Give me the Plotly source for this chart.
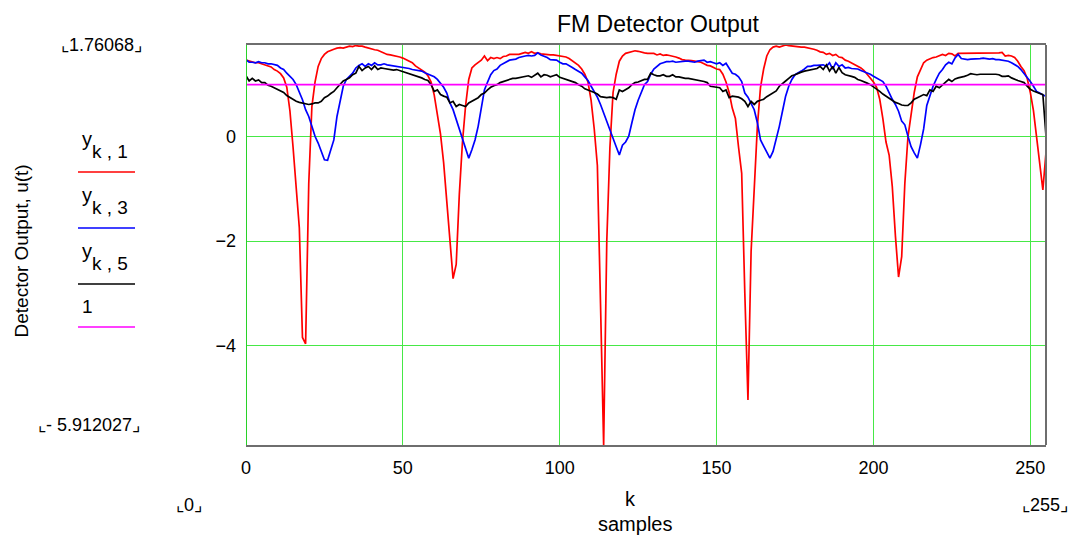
import plotly.graph_objects as go

# sample index k = 0 .. 255
k = list(range(256))

# detector output, column 1
y1 = [
    1.47, 1.45, 1.43, 1.42, 1.42, 1.40, 1.38, 1.36, 1.34, 1.29,
    1.26, 1.21, 1.13, 0.95, 0.50, -0.20, -0.95, -1.75, -3.85, -3.97,
    -0.90, 0.58, 1.05, 1.35, 1.50, 1.58, 1.63, 1.66, 1.68, 1.70,
    1.71, 1.70, 1.72, 1.74, 1.73, 1.75, 1.74, 1.74, 1.72, 1.70,
    1.68, 1.67, 1.66, 1.63, 1.60, 1.58, 1.57, 1.56, 1.54, 1.53,
    1.51, 1.48, 1.45, 1.42, 1.36, 1.32, 1.29, 1.24, 1.17, 1.05,
    0.80, 0.45, 0.05, -0.50, -1.30, -2.10, -2.72, -2.45, -1.10, -0.10,
    0.60, 1.10, 1.32, 1.38, 1.42, 1.47, 1.55, 1.46, 1.52, 1.50,
    1.52, 1.50, 1.54, 1.55, 1.58, 1.58, 1.59, 1.58, 1.60, 1.62,
    1.60, 1.63, 1.60, 1.61, 1.59, 1.58, 1.58, 1.57, 1.57, 1.56,
    1.56, 1.55, 1.53, 1.50, 1.46, 1.42, 1.37, 1.30, 1.20, 1.05,
    0.70, 0.15, -0.55, -3.20, -5.912027, -2.00, -0.20, 0.85, 1.20, 1.45,
    1.55, 1.60, 1.62, 1.63, 1.65, 1.64, 1.62, 1.61, 1.60, 1.60,
    1.60, 1.57, 1.59, 1.56, 1.57, 1.56, 1.55, 1.53, 1.51, 1.48,
    1.47, 1.47, 1.46, 1.45, 1.44, 1.43, 1.40, 1.37, 1.36, 1.33,
    1.30, 1.29, 1.20, 1.05, 0.85, 0.55, 0.35, -0.20, -0.70, -3.00,
    -5.05, -2.20, -0.90, 0.20, 0.95, 1.30, 1.55, 1.67, 1.72, 1.74,
    1.72, 1.74, 1.76068, 1.75, 1.74, 1.74, 1.73, 1.72, 1.72, 1.71,
    1.70, 1.68, 1.66, 1.63, 1.62, 1.58, 1.60, 1.56, 1.58, 1.53,
    1.52, 1.47, 1.45, 1.42, 1.38, 1.36, 1.32, 1.27, 1.20, 1.12,
    1.05, 0.95, 0.72, 0.35, -0.10, -0.35, -0.95, -1.90, -2.69, -2.30,
    -0.90, 0.00, 0.45, 0.85, 1.15, 1.30, 1.42, 1.47, 1.50, 1.52,
    1.53, 1.55, 1.58, 1.56, 1.60, 1.59, 1.55, 1.60, 1.60, 1.60,
    1.61, 1.61, 1.61, 1.60, 1.61, 1.60, 1.60, 1.60, 1.60, 1.60,
    1.61, 1.62, 1.55, 1.56, 1.55, 1.52, 1.45, 1.35, 1.27, 1.12,
    0.85, 0.50, 0.00, -0.60, -1.02, -0.30,
]

# detector output, column 3
y3 = [
    1.48, 1.43, 1.43, 1.42, 1.44, 1.42, 1.42, 1.40, 1.40, 1.38,
    1.37, 1.32, 1.29, 1.22, 1.16, 1.10, 1.00, 0.87, 0.71, 0.52,
    0.39, 0.20, 0.01, -0.12, -0.28, -0.44, -0.45, -0.25, -0.06, 0.39,
    0.71, 0.97, 1.10, 1.16, 1.22, 1.32, 1.37, 1.40, 1.35, 1.40,
    1.37, 1.42, 1.38, 1.38, 1.40, 1.38, 1.37, 1.36, 1.35, 1.35,
    1.34, 1.32, 1.31, 1.29, 1.28, 1.26, 1.26, 1.23, 1.20, 1.18,
    1.15, 1.10, 1.03, 0.95, 0.84, 0.65, 0.52, 0.33, 0.14, -0.06,
    -0.25, -0.41, -0.25, -0.06, 0.20, 0.55, 0.90, 1.05, 1.19, 1.27,
    1.30, 1.37, 1.40, 1.43, 1.47, 1.48, 1.49, 1.52, 1.54, 1.55,
    1.56, 1.55, 1.56, 1.61, 1.57, 1.55, 1.52, 1.48, 1.47, 1.47,
    1.43, 1.40, 1.40, 1.37, 1.33, 1.29, 1.25, 1.22, 1.15, 1.08,
    0.97, 0.87, 0.76, 0.62, 0.45, 0.30, 0.14, -0.06, -0.19, -0.35,
    -0.16, -0.10, 0.01, 0.27, 0.52, 0.70, 0.85, 1.00, 1.06, 1.20,
    1.30, 1.35, 1.40, 1.42, 1.44, 1.44, 1.45, 1.43, 1.44, 1.45,
    1.45, 1.45, 1.44, 1.43, 1.45, 1.46, 1.47, 1.43, 1.44, 1.42,
    1.40, 1.42, 1.37, 1.41, 1.30, 1.22, 1.20, 1.15, 1.06, 0.84,
    0.76, 0.65, 0.52, 0.27, -0.06, -0.18, -0.30, -0.41, -0.28, -0.06,
    0.20, 0.49, 0.78, 0.97, 1.10, 1.19, 1.22, 1.26, 1.30, 1.35,
    1.35, 1.37, 1.37, 1.38, 1.38, 1.35, 1.42, 1.30, 1.42, 1.35,
    1.38, 1.32, 1.33, 1.31, 1.30, 1.30, 1.27, 1.25, 1.23, 1.20,
    1.16, 1.13, 1.10, 1.06, 0.97, 0.84, 0.72, 0.62, 0.49, 0.30,
    0.23, 0.01, -0.19, -0.31, -0.41, -0.15, 0.15, 0.60, 0.78, 0.97,
    1.10, 1.22, 1.29, 1.38, 1.43, 1.40, 1.51, 1.58, 1.50, 1.49,
    1.48, 1.49, 1.49, 1.50, 1.50, 1.51, 1.50, 1.49, 1.50, 1.48,
    1.48, 1.47, 1.45, 1.45, 1.42, 1.38, 1.35, 1.29, 1.22, 1.13,
    1.06, 0.97, 0.87, 0.84, 0.80, 0.78,
]

# detector output, column 5
y5 = [
    1.17, 1.07, 1.12, 1.07, 1.09, 1.04, 1.04, 0.99, 0.97, 0.94,
    0.90, 0.87, 0.85, 0.79, 0.75, 0.71, 0.68, 0.66, 0.65, 0.63,
    0.62, 0.63, 0.65, 0.65, 0.68, 0.75, 0.78, 0.83, 0.87, 0.94,
    1.00, 1.07, 1.10, 1.13, 1.19, 1.22, 1.35, 1.27, 1.32, 1.35,
    1.29, 1.36, 1.29, 1.32, 1.31, 1.30, 1.29, 1.28, 1.29, 1.27,
    1.26, 1.23, 1.22, 1.19, 1.18, 1.16, 1.13, 1.10, 1.08, 1.00,
    0.87, 0.90, 0.81, 0.78, 0.76, 0.65, 0.68, 0.58, 0.62, 0.60,
    0.58, 0.65, 0.68, 0.71, 0.75, 0.81, 0.84, 0.90, 0.95, 0.98,
    1.00, 1.04, 1.06, 1.08, 1.10, 1.12, 1.12, 1.13, 1.15, 1.16,
    1.17, 1.14, 1.18, 1.22, 1.15, 1.19, 1.18, 1.15, 1.17, 1.19,
    1.14, 1.12, 1.10, 1.08, 1.06, 1.04, 1.00, 0.97, 0.92, 0.90,
    0.87, 0.85, 0.82, 0.77, 0.76, 0.75, 0.76, 0.75, 0.72, 0.90,
    0.87, 0.90, 0.94, 1.00, 1.04, 1.05, 1.07, 1.10, 1.10, 1.22,
    1.19, 1.17, 1.17, 1.19, 1.16, 1.16, 1.19, 1.15, 1.15, 1.13,
    1.12, 1.12, 1.11, 1.10, 1.09, 1.08, 1.06, 1.04, 0.97, 0.96,
    0.95, 0.94, 0.87, 0.90, 0.75, 0.78, 0.77, 0.76, 0.73, 0.68,
    0.58, 0.68, 0.62, 0.68, 0.70, 0.72, 0.77, 0.81, 0.84, 0.88,
    0.97, 1.03, 1.07, 1.12, 1.17, 1.19, 1.22, 1.24, 1.26, 1.27,
    1.28, 1.29, 1.31, 1.35, 1.29, 1.38, 1.26, 1.35, 1.22, 1.33,
    1.23, 1.19, 1.18, 1.16, 1.14, 1.10, 1.08, 1.06, 1.03, 1.00,
    0.96, 0.92, 0.87, 0.82, 0.78, 0.74, 0.70, 0.66, 0.64, 0.61,
    0.60, 0.60, 0.65, 0.72, 0.75, 0.78, 0.81, 0.79, 0.90, 0.87,
    0.97, 0.94, 1.00, 1.04, 1.10, 1.06, 1.11, 1.13, 1.14, 1.16,
    1.18, 1.21, 1.20, 1.19, 1.20, 1.20, 1.21, 1.21, 1.21, 1.20,
    1.19, 1.16, 1.16, 1.17, 1.13, 1.10, 1.08, 1.06, 1.04, 0.97,
    0.91, 0.88, 0.85, 0.83, 0.81, 0.01,
]

# reference level
unity = 1.0

# axis limits and ticks
y_min, y_max = -5.912027, 1.76068
k_min, k_max = 0, 255
x_ticks = [0, 50, 100, 150, 200, 250]
y_ticks = [-4, -2, 0]

FONT = "Liberation Sans, Arial, sans-serif"
GRID = "rgb(70,232,70)"
FRAME = "#6e6e6e"

W, H = 1073, 538
M_L, M_R, M_T, M_B = 246, 27, 45, 93
PLOT_W = W - M_L - M_R
PLOT_H = H - M_T - M_B

fig = go.Figure()
fig.add_trace(go.Scatter(x=k, y=y1, mode="lines", line=dict(color="#ff0000", width=1.7)))
fig.add_trace(go.Scatter(x=k, y=y3, mode="lines", line=dict(color="#0000ff", width=1.7)))
fig.add_trace(go.Scatter(x=k, y=y5, mode="lines", line=dict(color="#000000", width=1.7)))
fig.add_trace(go.Scatter(x=[k_min, k_max], y=[unity, unity], mode="lines",
                         line=dict(color="#ff00ff", width=1.7)))

fig.update_layout(
    width=W, height=H,
    margin=dict(l=M_L, r=M_R, t=M_T, b=M_B),
    paper_bgcolor="white", plot_bgcolor="white",
    showlegend=False,
    font=dict(family=FONT, size=18, color="black"),
    title=dict(text="FM Detector Output", x=658 / W, xanchor="center",
               y=1 - 24 / H, yanchor="middle", font=dict(size=23)),
)
fig.update_xaxes(
    range=[k_min, k_max], tickvals=x_ticks, ticks="", showgrid=True,
    gridcolor=GRID, gridwidth=1.3, zeroline=False,
    showline=True, mirror=True, linecolor=FRAME, linewidth=2,
    ticklabelstandoff=5, tickfont=dict(size=18),
)
fig.update_yaxes(
    range=[y_min, y_max], tickvals=y_ticks, ticks="", showgrid=True,
    gridcolor=GRID, gridwidth=1.3, zeroline=False, showline=False,
    ticklabelstandoff=9, tickfont=dict(size=18),
)

# right edge of the frame and left edge in grid green
fig.add_shape(type="line", xref="paper", yref="paper", x0=1, x1=1, y0=0, y1=1,
              line=dict(color=FRAME, width=2))
fig.add_shape(type="line", xref="x", yref="paper", x0=k_min, x1=k_min, y0=0, y1=1,
              line=dict(color="rgb(40,210,40)", width=2))


# page pixels -> paper coordinates (paper spans the plotting area)
def px_x(px):
    return (px - M_L) / PLOT_W


def px_y(py):
    return (H - M_B - py) / PLOT_H


def note(text, x, y, size=18, anchor="center"):
    fig.add_annotation(text=text, xref="paper", yref="paper", x=px_x(x), y=px_y(y),
                       xanchor=anchor, yanchor="middle", showarrow=False,
                       font=dict(size=size, family=FONT, color="black"))


# axis labels and range markers
note("k", 630, 499, size=20)
note("samples", 635, 524, size=20)
note("⌞0⌟", 189, 505)
note("⌞255⌟", 1045, 505)
note("⌞1.76068⌟", 101, 45)
note("⌞- 5.912027⌟", 89, 425)
fig.add_annotation(text="Detector Output, u(t)", xref="paper", yref="paper",
                   x=px_x(8), y=px_y(251), textangle=-90, showarrow=False,
                   font=dict(size=19, family=FONT, color="black"))

# legend: trace names with coloured rules beneath
legend = [("1", "#ff0000", 172), ("3", "#0000ff", 228), ("5", "#000000", 284)]
for col, color, ly in legend:
    note("y", 87, ly - 33, size=20)
    note("k , " + col, 110, ly - 21, size=19)
    fig.add_shape(type="line", xref="paper", yref="paper",
                  x0=px_x(78), x1=px_x(135), y0=px_y(ly), y1=px_y(ly),
                  line=dict(color=color, width=1.5))
note("1", 87, 306, size=19)
fig.add_shape(type="line", xref="paper", yref="paper",
              x0=px_x(78), x1=px_x(135), y0=px_y(327), y1=px_y(327),
              line=dict(color="#ff00ff", width=1.5))

fig.write_html("out.html")
